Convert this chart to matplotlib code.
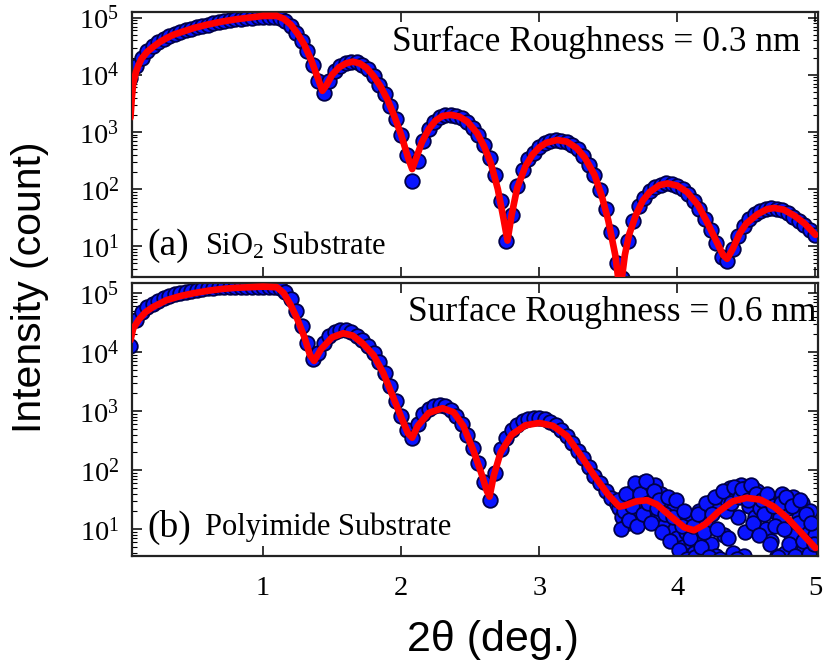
import numpy as np
import matplotlib
matplotlib.use("Agg")
import matplotlib.pyplot as plt
from matplotlib.ticker import LogLocator, NullFormatter, FixedLocator

# ---- panel (a): SiO2 substrate, measured data (log10 of counts) on a 0.04 deg grid
x_a = np.arange(1, 126) * 0.04
log_a = [
    3.95, 4.15, 4.30, 4.42, 4.50, 4.57, 4.63, 4.68, 4.72, 4.75,
    4.78, 4.81, 4.84, 4.86, 4.88, 4.90, 4.92, 4.94, 4.96, 4.97,
    4.98, 4.99, 5.00, 5.01, 5.02, 5.02, 5.02, 5.00, 4.95, 4.86,
    4.74, 4.60, 4.42, 4.17, 3.90, 3.68, 3.90, 4.07, 4.16, 4.21,
    4.23, 4.22, 4.17, 4.10, 3.98, 3.83, 3.66, 3.46, 3.22, 2.95,
    2.60, 2.15, 2.50, 2.85, 3.05, 3.18, 3.26, 3.29, 3.30, 3.28,
    3.24, 3.17, 3.07, 2.95, 2.78, 2.55, 2.25, 1.80, 1.10, 1.55,
    2.05, 2.33, 2.52, 2.64, 2.73, 2.80, 2.84, 2.86, 2.85, 2.82,
    2.77, 2.70, 2.58, 2.43, 2.25, 1.98, 1.65, 1.25, 0.70, 0.45,
    1.10, 1.45, 1.70, 1.85, 1.96, 2.04, 2.08, 2.10, 2.09, 2.06,
    2.00, 1.92, 1.80, 1.66, 1.48, 1.28, 1.05, 0.82, 0.75, 0.95,
    1.18, 1.35, 1.47, 1.56, 1.62, 1.65, 1.67, 1.66, 1.63, 1.58,
    1.52, 1.45, 1.37, 1.29, 1.20,
]

# panel (a) fit curve
fit_x_a = [0.04, 0.05, 0.06, 0.08, 0.10, 0.12, 0.16, 0.20, 0.25, 0.30, 0.35, 0.40, 0.50,
           0.60, 0.70, 0.80, 0.90, 1.00, 1.10, 1.15, 1.20, 1.25, 1.30, 1.35, 1.40, 1.43,
           1.46, 1.50, 1.55, 1.60, 1.65, 1.70, 1.75, 1.80, 1.85, 1.90, 1.95, 2.00, 2.05,
           2.08, 2.11, 2.15, 2.20, 2.25, 2.30, 2.36, 2.42, 2.48, 2.55, 2.60, 2.65, 2.70,
           2.74, 2.77, 2.80, 2.84, 2.90, 2.95, 3.00, 3.05, 3.13, 3.20, 3.27, 3.33, 3.40,
           3.45, 3.50, 3.55, 3.585, 3.62, 3.65, 3.70, 3.75, 3.80, 3.87, 3.93, 4.00, 4.07,
           4.15, 4.22, 4.28, 4.33, 4.36, 4.40, 4.45, 4.50, 4.58, 4.65, 4.70, 4.77, 4.85,
           4.92, 5.00]
fit_log_a = [3.25, 3.60, 3.85, 4.05, 4.18, 4.28, 4.40, 4.48, 4.57, 4.64, 4.70, 4.74, 4.82,
             4.88, 4.93, 4.97, 5.00, 5.03, 5.03, 4.98, 4.88, 4.72, 4.52, 4.25, 3.92, 3.72,
             3.82, 4.00, 4.13, 4.20, 4.23, 4.20, 4.12, 3.98, 3.80, 3.57, 3.28, 2.95, 2.55,
             2.35, 2.55, 2.82, 3.05, 3.20, 3.28, 3.30, 3.27, 3.18, 2.98, 2.75, 2.45, 2.00,
             1.50, 1.10, 1.55, 2.02, 2.40, 2.60, 2.73, 2.81, 2.86, 2.83, 2.72, 2.55, 2.25,
             1.90, 1.45, 0.85, 0.20, 0.85, 1.20, 1.55, 1.80, 1.95, 2.07, 2.10, 2.06, 1.95,
             1.72, 1.40, 1.10, 0.85, 0.78, 0.95, 1.22, 1.40, 1.56, 1.65, 1.67, 1.64, 1.53,
             1.40, 1.20]

# ---- panel (b): polyimide substrate, measured data
x_b1 = np.arange(1, 90) * 0.04
log_b1 = [
    4.10, 4.55, 4.68, 4.76, 4.82, 4.87, 4.91, 4.95, 4.98, 5.00,
    5.02, 5.04, 5.06, 5.07, 5.08, 5.09, 5.10, 5.10, 5.11, 5.11,
    5.11, 5.11, 5.11, 5.10, 5.10, 5.10, 5.10, 5.08, 5.02, 4.90,
    4.70, 4.45, 4.15, 3.88, 3.98, 4.15, 4.27, 4.34, 4.37, 4.37,
    4.34, 4.28, 4.20, 4.10, 3.98, 3.83, 3.65, 3.43, 3.18, 2.92,
    2.68, 2.55, 2.78, 2.95, 3.04, 3.08, 3.10, 3.08, 3.02, 2.92,
    2.78, 2.60, 2.38, 2.12, 1.80, 1.50, 1.95, 2.35, 2.55, 2.68,
    2.77, 2.83, 2.87, 2.88, 2.88, 2.86, 2.82, 2.76, 2.68, 2.58,
    2.46, 2.33, 2.20, 2.05, 1.90, 1.78, 1.65, 1.52, 1.42,
]
# noisy tail, 0.02 deg grid from 3.58 to 5.00
x_b2 = 3.56 + np.arange(1, 73) * 0.02
log_b2 = [
    1.35, 1.20, 1.55, 1.10, 1.45, 1.65, 1.25, 1.75, 1.50, 1.80,
    1.30, 1.70, 1.55, 1.75, 1.20, 1.60, 1.05, 1.45, 0.90, 1.30,
    1.00, 0.85, 1.15, 0.70, 0.95, 0.55, 1.20, 0.60, 0.90, 1.30,
    0.50, 1.10, 1.40, 0.75, 1.50, 0.55, 1.35, 1.60, 0.90, 1.50,
    1.70, 0.60, 1.60, 1.20, 1.75, 0.55, 1.70, 1.40, 1.72, 1.20,
    1.65, 1.35, 1.55, 1.00, 1.45, 0.80, 1.30, 0.55, 1.20, 1.60,
    0.60, 1.35, 0.90, 1.55, 0.55, 1.20, 1.45, 0.70, 1.00, 1.30,
    0.60, 0.90,
]
# noisy tail, second pass on the odd 0.02 deg grid from 3.57 to 4.99
x_b3 = 3.55 + np.arange(1, 73) * 0.02
log_b3 = [
    1.50, 1.00, 1.30, 1.60, 1.15, 1.40, 1.78, 1.05, 1.60, 1.25,
    1.82, 1.45, 1.10, 1.65, 1.35, 1.50, 0.95, 1.25, 1.55, 0.80,
    1.20, 1.50, 0.65, 1.05, 1.30, 0.50, 0.85, 1.05, 0.52, 1.25,
    0.70, 0.95, 1.45, 0.52, 1.25, 1.55, 1.00, 0.50, 1.65, 1.30,
    0.85, 1.45, 1.72, 0.50, 1.55, 1.68, 0.95, 1.50, 1.75, 1.10,
    1.60, 0.90, 1.50, 1.25, 1.60, 0.75, 1.40, 1.05, 0.52, 1.45,
    1.00, 1.55, 0.75, 1.40, 0.55, 1.10, 1.50, 0.80, 1.25, 0.58,
    1.10, 0.75,
]

# panel (b) fit curve
fit_x_b = [0.04, 0.06, 0.10, 0.15, 0.20, 0.30, 0.40, 0.50, 0.60, 0.70, 0.80, 0.90, 1.00,
           1.10, 1.15, 1.20, 1.25, 1.30, 1.34, 1.37, 1.42, 1.50, 1.58, 1.65, 1.72, 1.80,
           1.87, 1.94, 2.00, 2.05, 2.08, 2.12, 2.20, 2.30, 2.38, 2.45, 2.52, 2.58, 2.62,
           2.64, 2.67, 2.72, 2.80, 2.90, 3.00, 3.10, 3.20, 3.30, 3.40, 3.50, 3.58, 3.62,
           3.70, 3.78, 3.85, 3.95, 4.05, 4.12, 4.20, 4.30, 4.40, 4.50, 4.60, 4.70, 4.80,
           4.90, 5.00]
fit_log_b = [4.20, 4.40, 4.55, 4.68, 4.76, 4.88, 4.95, 5.00, 5.04, 5.07, 5.09, 5.10, 5.11,
             5.10, 5.00, 4.80, 4.55, 4.25, 3.95, 3.85, 4.05, 4.25, 4.32, 4.28, 4.15, 3.95,
             3.65, 3.25, 2.90, 2.62, 2.55, 2.75, 2.97, 3.05, 2.98, 2.75, 2.35, 1.95, 1.65,
             1.55, 1.90, 2.30, 2.60, 2.76, 2.80, 2.75, 2.58, 2.25, 1.90, 1.58, 1.38, 1.40,
             1.47, 1.49, 1.42, 1.22, 1.03, 0.98, 1.08, 1.30, 1.47, 1.53, 1.50, 1.38, 1.18,
             0.93, 0.68]

roughness = ["Surface Roughness = 0.3 nm", "Surface Roughness = 0.6 nm"]
panel_tags = ["(a)", "(b)"]
substrates = ["SiO$_2$ Substrate", "Polyimide Substrate"]

plt.rcParams["font.family"] = ["Liberation Serif", "DejaVu Serif"]
plt.rcParams["mathtext.default"] = "regular"

fig = plt.figure(figsize=(8.24, 6.63), dpi=100)
ax_a = fig.add_axes([0.160, 0.582, 0.833, 0.400])
ax_b = fig.add_axes([0.160, 0.161, 0.833, 0.412])

panels = [
    (ax_a, x_a, np.array(log_a), fit_x_a, fit_log_a, (10**0.46, 10**5.1)),
    (ax_b, np.concatenate([x_b1, x_b2, x_b3]), np.array(log_b1 + log_b2 + log_b3),
     fit_x_b, fit_log_b, (10**0.54, 10**5.17)),
]

for i, (ax, xd, ld, fx, fl, ylim) in enumerate(panels):
    ax.plot(xd, 10 ** ld, "o", ms=10.5, mfc="#0a14ff", mec="#00004a", mew=1.3, zorder=2)
    ax.plot(fx, 10 ** np.array(fl), "-", color="#ff0000", lw=4.8, zorder=3,
            solid_capstyle="round", solid_joinstyle="round")
    ax.set_yscale("log")
    ax.set_xlim(0.05, 5.02)
    ax.set_ylim(*ylim)
    ax.yaxis.set_major_locator(FixedLocator([1e1, 1e2, 1e3, 1e4, 1e5]))
    ax.yaxis.set_minor_locator(LogLocator(base=10, subs=np.arange(2, 10) * 1.0, numticks=20))
    ax.yaxis.set_minor_formatter(NullFormatter())
    ax.xaxis.set_major_locator(FixedLocator([1, 2, 3, 4, 5]))
    ax.tick_params(which="both", direction="in", top=True, right=True, labelsize=20.5)
    ax.tick_params(which="major", length=7, width=1.1)
    ax.tick_params(which="minor", length=3.5, width=0.8)
    ax.tick_params(axis="x", pad=14)
    ax.tick_params(axis="y", pad=9)
    for sp in ax.spines.values():
        sp.set_linewidth(1.6)
        sp.set_color("#222222")
    ax.text(0.974 if i == 0 else 0.998, 0.885 if i == 0 else 0.894, roughness[i],
            transform=ax.transAxes, ha="right", va="center", fontsize=25.5)
    ax.text(0.022, 0.12 if i == 0 else 0.106, panel_tags[i], transform=ax.transAxes,
            ha="left", va="center", fontsize=27)
    ax.text(0.106, 0.12 if i == 0 else 0.106, substrates[i], transform=ax.transAxes,
            ha="left", va="center", fontsize=22)

ax_a.tick_params(axis="x", labelbottom=False)

fig.text(0.036, 0.567, "Intensity (count)", rotation=90, ha="center", va="center",
         fontsize=29.5, family="Liberation Sans")
fig.text(0.598, 0.034, "2\u03b8 (deg.)", ha="center", va="center", fontsize=31,
         family="Liberation Sans")

fig.savefig("out.png", dpi=100)
